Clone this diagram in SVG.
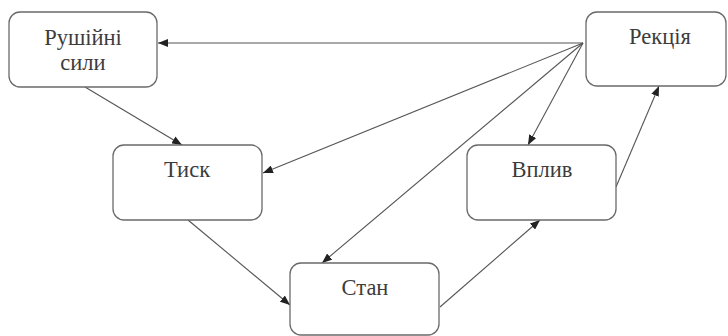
<svg xmlns="http://www.w3.org/2000/svg" width="728" height="336" viewBox="0 0 728 336">
<style>
.box{fill:#fff;stroke:#6a6a6a;stroke-width:1.3}
.lbl{font-family:'Liberation Serif','Times New Roman',serif;font-size:22.5px;fill:#3c3c3c;text-anchor:middle}
.edge{stroke:#555;stroke-width:1.1;fill:none;marker-end:url(#ah)}
</style>
<defs>
<marker id="ah" viewBox="0 0 10 8" refX="10" refY="4" markerWidth="10" markerHeight="8" markerUnits="userSpaceOnUse" orient="auto">
<path d="M0,0 L10,4 L0,8 z" fill="#222"/>
</marker>
</defs>
<rect width="728" height="336" fill="#fff"/>
<g id="connectors">
<line class="edge" x1="583" y1="43" x2="158" y2="43"/>
<line class="edge" x1="583" y1="43" x2="263" y2="173"/>
<line class="edge" x1="583" y1="43" x2="322" y2="263"/>
<line class="edge" x1="583" y1="43" x2="528" y2="145"/>
<line class="edge" x1="85" y1="87" x2="182" y2="145"/>
<line class="edge" x1="188" y1="220" x2="290" y2="305"/>
<line class="edge" x1="440" y1="307" x2="540" y2="220"/>
<line class="edge" x1="616" y1="187" x2="659" y2="86"/>
</g>
<g id="rushiini">
<rect class="box" x="9" y="12" width="148" height="75" rx="11"/>
<text class="lbl" x="83" y="45">Рушійні</text>
<text class="lbl" x="83" y="70">сили</text>
</g>
<g id="rekciia">
<rect class="box" x="586" y="12" width="140" height="74" rx="11"/>
<text class="lbl" x="660" y="44">Рекція</text>
</g>
<g id="tysk">
<rect class="box" x="113" y="145" width="149" height="75" rx="11"/>
<text class="lbl" x="187" y="177">Тиск</text>
</g>
<g id="vplyv">
<rect class="box" x="467" y="145" width="149" height="75" rx="11"/>
<text class="lbl" x="542" y="177">Вплив</text>
</g>
<g id="stan">
<rect class="box" x="290" y="263" width="149" height="72" rx="11"/>
<text class="lbl" x="365" y="295">Стан</text>
</g>
</svg>
